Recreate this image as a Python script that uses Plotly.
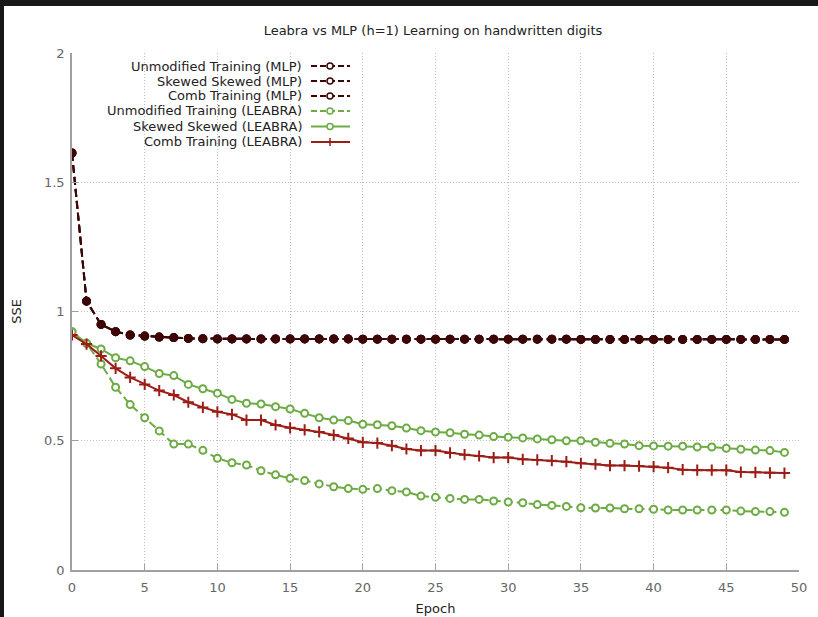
import plotly.graph_objects as go

epochs = list(range(50))

mlp_unmodified = [1.613, 1.040, 0.950, 0.922, 0.909, 0.905, 0.901, 0.899, 0.896, 0.895,
                  0.894, 0.894, 0.894, 0.894, 0.894, 0.894, 0.894, 0.894, 0.894, 0.894,
                  0.893, 0.893, 0.893, 0.893, 0.893, 0.893, 0.893, 0.893, 0.893, 0.893,
                  0.893, 0.893, 0.893, 0.893, 0.893, 0.892, 0.892, 0.892, 0.892, 0.892,
                  0.892, 0.892, 0.892, 0.892, 0.892, 0.892, 0.892, 0.892, 0.892, 0.892]
mlp_skewed = list(mlp_unmodified)
mlp_comb = list(mlp_unmodified)

leabra_unmodified = [0.922, 0.877, 0.797, 0.707, 0.640, 0.589, 0.538, 0.487, 0.487, 0.463,
                     0.432, 0.415, 0.406, 0.384, 0.368, 0.355, 0.346, 0.333, 0.322, 0.315,
                     0.312, 0.315, 0.307, 0.302, 0.286, 0.281, 0.277, 0.273, 0.273, 0.267,
                     0.263, 0.260, 0.253, 0.250, 0.246, 0.241, 0.240, 0.240, 0.237, 0.237,
                     0.235, 0.232, 0.232, 0.232, 0.232, 0.232, 0.228, 0.226, 0.226, 0.223]
leabra_skewed = [0.922, 0.877, 0.855, 0.821, 0.809, 0.787, 0.760, 0.752, 0.718, 0.701,
                 0.684, 0.660, 0.645, 0.642, 0.632, 0.623, 0.606, 0.589, 0.580, 0.578,
                 0.564, 0.562, 0.558, 0.549, 0.539, 0.534, 0.531, 0.525, 0.522, 0.516,
                 0.514, 0.511, 0.507, 0.504, 0.500, 0.500, 0.494, 0.490, 0.487, 0.481,
                 0.480, 0.479, 0.479, 0.476, 0.476, 0.471, 0.467, 0.464, 0.462, 0.455]
leabra_comb = [0.909, 0.874, 0.828, 0.780, 0.745, 0.718, 0.694, 0.677, 0.649, 0.629,
               0.612, 0.602, 0.580, 0.580, 0.561, 0.550, 0.542, 0.534, 0.522, 0.509,
               0.494, 0.491, 0.481, 0.468, 0.462, 0.462, 0.453, 0.446, 0.441, 0.435,
               0.435, 0.428, 0.426, 0.423, 0.419, 0.413, 0.409, 0.404, 0.404, 0.402,
               0.400, 0.396, 0.388, 0.386, 0.386, 0.386, 0.379, 0.378, 0.376, 0.375]

series_names = ["Unmodified Training (MLP)", "Skewed Skewed (MLP)", "Comb Training (MLP)",
                "Unmodified Training (LEABRA)", "Skewed Skewed (LEABRA)", "Comb Training (LEABRA)"]
x_ticks = [0, 5, 10, 15, 20, 25, 30, 35, 40, 45, 50]
y_ticks = [0, 0.5, 1, 1.5, 2]

MAROON = "#3d0606"
GREEN = "#6dab45"
RED = "#9b1d16"
FONT = "DejaVu Sans"
FS = 13

W, H = 818, 617
ML, MR, MT, MB = 72, 19, 53, 47
PW, PH = W - ML - MR, H - MT - MB

def px(xp):
    return (xp - ML) / PW

def py(yp):
    return (H - MB - yp) / PH

fig = go.Figure()

styles = [
    (mlp_unmodified, MAROON, "dash", "circle-open"),
    (mlp_skewed, MAROON, "dash", "circle-open"),
    (mlp_comb, MAROON, "dash", "circle"),
    (leabra_unmodified, GREEN, "dash", "circle-open"),
    (leabra_skewed, GREEN, "solid", "circle-open"),
    (leabra_comb, RED, "solid", "cross-thin-open"),
]
for (vals, col, dash, sym), name in zip(styles, series_names):
    if sym == "circle-open":
        mk = dict(symbol="circle", size=7, color="white", line=dict(color=col, width=2))
    elif sym == "circle":
        mk = dict(symbol="circle", size=7, color=col, line=dict(color=col, width=2))
    else:
        mk = dict(symbol=sym, size=8, color=col, line=dict(color=col, width=2))
    fig.add_trace(go.Scatter(
        x=epochs, y=vals, name=name, mode="lines+markers",
        line=dict(color=col, width=2, dash="8px,4px" if dash == "dash" else "solid"),
        marker=mk, showlegend=False, hoverinfo="skip",
    ))

shapes = []
# page background: dark frame with white canvas
shapes.append(dict(type="rect", xref="paper", yref="paper", layer="below",
                   x0=px(4), x1=px(W + 20), y0=py(H + 20), y1=py(6),
                   fillcolor="white", line=dict(width=0)))

annotations = []
legend_rows = [66, 81, 96, 111, 126.5, 142]
for (vals, col, dash, sym), name, ry in zip(styles, series_names, legend_rows):
    annotations.append(dict(text=name, xref="paper", yref="paper", x=px(304), y=py(ry),
                            xanchor="right", yanchor="middle", showarrow=False,
                            font=dict(family=FONT, size=FS, color="#222")))
    shapes.append(dict(type="line", xref="paper", yref="paper", x0=px(311), x1=px(350),
                       y0=py(ry), y1=py(ry), line=dict(color=col, width=2,
                       dash="6px,3px" if dash == "dash" else "solid")))
    if "circle" in sym:
        shapes.append(dict(type="circle", xref="paper", yref="paper",
                           xsizemode="pixel", ysizemode="pixel",
                           xanchor=px(330), yanchor=py(ry), x0=-3, x1=3, y0=-3, y1=3,
                           fillcolor="white", line=dict(color=col, width=1.5)))
    else:
        shapes.append(dict(type="line", xref="paper", yref="paper",
                           xsizemode="pixel", ysizemode="pixel",
                           xanchor=px(330), yanchor=py(ry), x0=0, x1=0, y0=-4, y1=4,
                           line=dict(color=col, width=1.5)))

fig.update_layout(
    width=W, height=H, autosize=False,
    margin=dict(l=ML, r=MR, t=MT, b=MB, pad=0, autoexpand=False),
    paper_bgcolor="#181818",
    plot_bgcolor="rgba(0,0,0,0)",
    title=dict(text="Leabra vs MLP (h=1) Learning on handwritten digits",
               xref="container", x=433 / W, xanchor="center",
               yref="container", y=1 - 30 / H, yanchor="middle",
               font=dict(family=FONT, size=FS, color="#222")),
    font=dict(family=FONT, size=FS, color="#666"),
    shapes=shapes,
    annotations=annotations,
    xaxis=dict(range=[0, 50], tickvals=x_ticks, ticktext=[str(v) for v in x_ticks],
               automargin=False, ticklabelstandoff=5,
               showgrid=True, gridcolor="#bdbdbd", griddash="1px,2px", gridwidth=1,
               zeroline=False, showline=True, linecolor="#a0a0a0", linewidth=1.5,
               ticks="inside", ticklen=6, tickcolor="#a0a0a0",
               tickfont=dict(family=FONT, size=FS, color="#666"),
               title=dict(text="Epoch", font=dict(family=FONT, size=FS, color="#222"),
                          standoff=10)),
    yaxis=dict(range=[0, 2], tickvals=y_ticks, ticktext=["0", "0.5", "1", "1.5", "2"],
               automargin=False, ticklabelstandoff=3,
               showgrid=True, gridcolor="#bdbdbd", griddash="1px,2px", gridwidth=1,
               zeroline=False, showline=True, linecolor="#a0a0a0", linewidth=1.5,
               ticks="inside", ticklen=6, tickcolor="#a0a0a0",
               tickfont=dict(family=FONT, size=FS, color="#666"),
               title=dict(text="SSE", font=dict(family=FONT, size=FS, color="#222"),
                          standoff=19)),
)

fig.write_html("out.html", config={"displayModeBar": False},
               post_script="document.body.style.margin='0';")
